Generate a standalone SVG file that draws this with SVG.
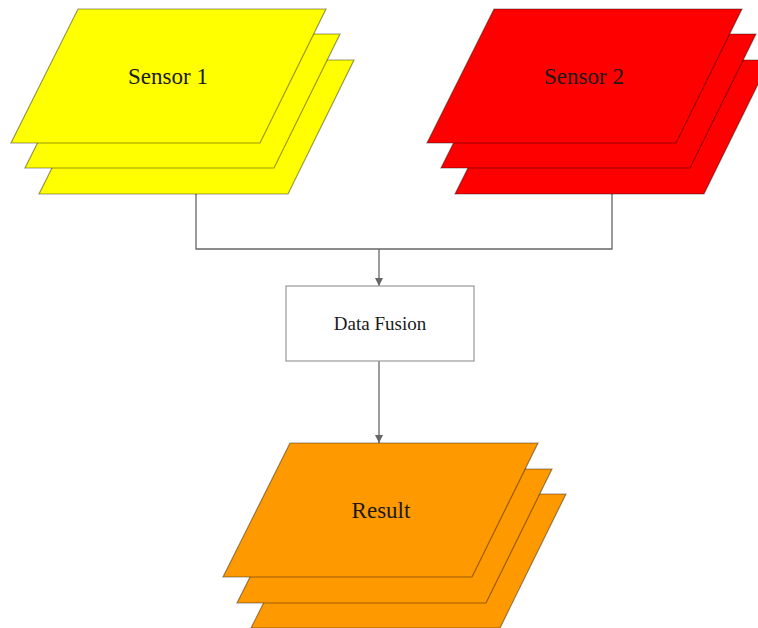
<svg xmlns="http://www.w3.org/2000/svg" width="758" height="628" viewBox="0 0 758 628">
  <style>
    .sheet { stroke: #000; stroke-opacity: 0.4; stroke-width: 1.2; }
    .yellow { fill: #FFFF00; }
    .red { fill: #FF0000; }
    .orange { fill: #FF9900; }
    .label { font-family: "Liberation Serif", "Times New Roman", serif; fill: #1a1a1a; text-anchor: middle; }
    .big { font-size: 23px; }
    .small { font-size: 19px; }
    .wire { fill: none; stroke: #666; stroke-width: 1.3; }
  </style>
  <defs>
    <!-- one parallelogram sheet; stacks are built from offset copies -->
    <polygon id="sheet" points="67,0 315,0 249,134 0,134"/>
    <marker id="arrow" viewBox="0 0 10 10" refX="10" refY="5" markerWidth="8" markerHeight="8" markerUnits="userSpaceOnUse" orient="auto">
      <path d="M0,0 L10,5 L0,10 z" fill="#666"/>
    </marker>
  </defs>
  <rect width="758" height="628" fill="#fff"/>

  <g id="connectors">
    <polyline class="wire" points="196,194 196,249 612,249 612,194"/>
    <line class="wire" x1="379" y1="249" x2="379" y2="286" marker-end="url(#arrow)"/>
    <line class="wire" x1="379" y1="361" x2="379" y2="443" marker-end="url(#arrow)"/>
  </g>

  <g id="sensor1">
    <use href="#sheet" class="sheet yellow" x="39" y="60"/>
    <use href="#sheet" class="sheet yellow" x="25" y="34"/>
    <use href="#sheet" class="sheet yellow" x="11" y="9"/>
    <text class="label big" x="168" y="84">Sensor 1</text>
  </g>

  <g id="sensor2">
    <use href="#sheet" class="sheet red" x="455" y="60"/>
    <use href="#sheet" class="sheet red" x="441" y="34"/>
    <use href="#sheet" class="sheet red" x="427" y="9"/>
    <text class="label big" x="584" y="84">Sensor 2</text>
  </g>

  <g id="data-fusion">
    <rect x="286" y="286" width="188" height="75" fill="#fff" stroke="#999" stroke-width="1.2"/>
    <text class="label small" x="380" y="330">Data Fusion</text>
  </g>

  <g id="result">
    <use href="#sheet" class="sheet orange" x="251" y="494"/>
    <use href="#sheet" class="sheet orange" x="237" y="469"/>
    <use href="#sheet" class="sheet orange" x="223" y="443"/>
    <text class="label big" x="381" y="518">Result</text>
  </g>
</svg>
